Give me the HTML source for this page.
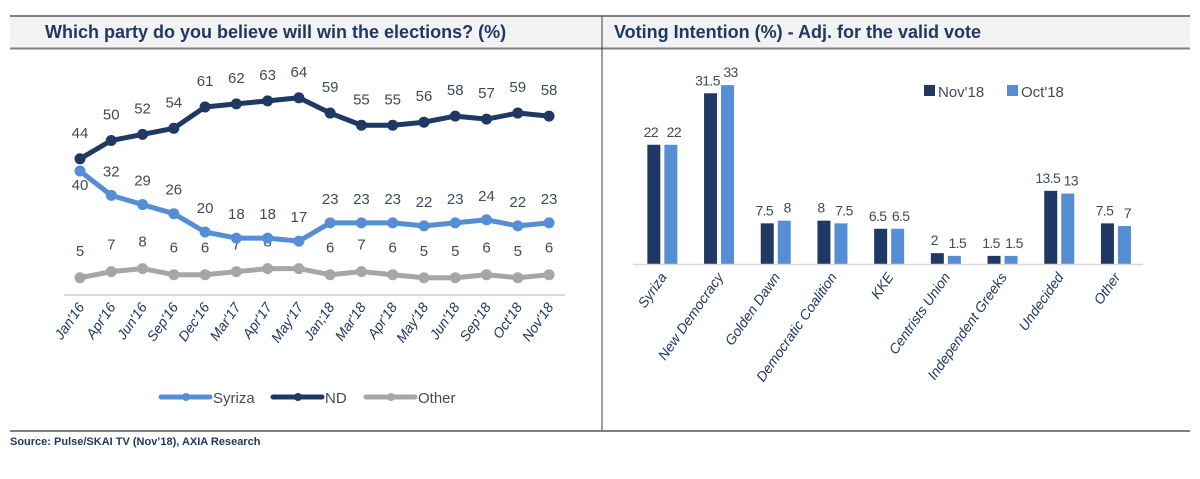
<!DOCTYPE html>
<html><head><meta charset="utf-8"><style>
body{margin:0;background:#fff;width:1200px;height:474px;overflow:hidden;font-family:"Liberation Sans",sans-serif}
svg text{font-family:"Liberation Sans",sans-serif}
</style></head><body>
<svg id="c" width="1200" height="474" xmlns="http://www.w3.org/2000/svg">
<rect x="10" y="15" width="1180" height="34" fill="#f2f2f2"/>
<line x1="10" y1="16" x2="1190" y2="16" stroke="#7f7f7f" stroke-width="2"/>
<line x1="10" y1="48.5" x2="1190" y2="48.5" stroke="#7f7f7f" stroke-width="2"/>
<line x1="602" y1="16" x2="602" y2="431" stroke="#404040" stroke-width="1"/>
<line x1="10" y1="431" x2="1190" y2="431" stroke="#7f7f7f" stroke-width="2"/>
<text x="45" y="38" font-size="18" font-weight="bold" fill="#1f3864">Which party do you believe will win the elections? (%)</text>
<text x="614" y="38" font-size="18" font-weight="bold" fill="#1f3864">Voting Intention (%) - Adj. for the valid vote</text>
<text x="10" y="445" font-size="11" font-weight="bold" fill="#1f3864">Source: Pulse/SKAI TV (Nov’18), AXIA Research</text>
<g id="left"></g><g id="right"></g>
</svg>
<script>
const months=["Jan'16","Apr'16","Jun'16","Sep'16","Dec'16","Mar'17","Apr'17","May'17","Jan;18","Mar'18","Apr'18","May'18","Jun'18","Sep'18","Oct'18","Nov'18"];
const nd=[44,50,52,54,61,62,63,64,59,55,55,56,58,57,59,58];
const syriza=[40,32,29,26,20,18,18,17,23,23,23,22,23,24,22,23];
const other=[5,7,8,6,6,7,8,8,6,7,6,5,5,6,5,6];
const parties=["Syriza","New Democracy","Golden Dawn","Democratic Coalition","KKE","Centrists Union","Independent Greeks","Undecided","Other"];
const nov18=[22,31.5,7.5,8,6.5,2,1.5,13.5,7.5];
const oct18=[22,33,8,7.5,6.5,1.5,1.5,13,7];
const NS="http://www.w3.org/2000/svg";
function mk(t,a,p){const e=document.createElementNS(NS,t);for(const k in a)e.setAttribute(k,a[k]);p.appendChild(e);return e;}
const L=document.getElementById('left'),R=document.getElementById('right');
const lx=i=>80+i*31.27, ly=v=>293-v*3.05;
let ax=mk('line',{x1:64,y1:295,x2:565,y2:295,stroke:'#d9d9d9','stroke-width':2},L);


months.forEach((m,i)=>{const t=mk('text',{x:0,y:0,'font-size':14,'font-style':'italic',fill:'#1f3864','text-anchor':'end',transform:`translate(${lx(i)+5},${307}) rotate(-55)`},L);t.textContent=m;

});
function series(vals,color,name,off){
  const pl=mk('polyline',{points:vals.map((v,i)=>lx(i)+','+ly(v)).join(' '),fill:'none',stroke:color,'stroke-width':5,'stroke-linejoin':'round'},L);
  
  
  vals.forEach((v,i)=>{const c=mk('circle',{cx:lx(i),cy:ly(v),r:5.5,fill:color},L);
    
    
    const dy=(name==='syriza'&&i===0)?19:off(i);
    const t=mk('text',{x:lx(i),y:ly(v)+dy,'font-size':15,fill:'#404a5a','text-anchor':'middle'},L);t.textContent=v;
    
    });
}
series(other,'#a6a6a6','other',i=>-22);
series(syriza,'#558ed5','syriza',i=>-19);
series(nd,'#1f3864','nd',i=>-21);
[['Syriza','#558ed5',161],['ND','#1f3864',273],['Other','#a6a6a6',366]].forEach(([n,c,x])=>{
  const g=mk('g',{},L);
  
  mk('line',{x1:x,y1:397,x2:x+49,y2:397,stroke:c,'stroke-width':5,'stroke-linecap':'round'},g);
  mk('circle',{cx:x+25,cy:397,r:4,fill:c},g);
  const t=mk('text',{x:x+52,y:403,'font-size':15,fill:'#404a5a'},g);t.textContent=n;});
// right
const bx=i=>633+(i+0.5)*56.7, by=v=>264-v*5.42;
parties.forEach((p,i)=>{
  [[nov18,'#1f3864',-14,'nov',-3],[oct18,'#558ed5',3,'oct',3]].forEach(([arr,c,o,n,lo])=>{
    const v=arr[i];const r=mk('rect',{x:bx(i)+o,y:by(v),width:13,height:264-by(v),fill:c},R);
    
    
    const t=mk('text',{x:bx(i)+o+6.5+lo,y:by(v)-8,'font-size':14,'letter-spacing':'-0.6',fill:'#404a5a','text-anchor':'middle'},R);t.textContent=v;
    
    });
  const t=mk('text',{x:0,y:0,'font-size':14,'font-style':'italic',fill:'#1f3864','text-anchor':'end',transform:`translate(${bx(i)+6},${277}) rotate(-55)`},R);t.textContent=p;
  
  });
let ax2=mk('line',{x1:633,y1:264.5,x2:1143,y2:264.5,stroke:'#d9d9d9','stroke-width':1.5},R);


[['Nov\'18','#1f3864',924],['Oct\'18','#558ed5',1007]].forEach(([n,c,x])=>{
  const g=mk('g',{},R);
  
  mk('rect',{x:x,y:85,width:11,height:11,fill:c},g);
  const t=mk('text',{x:x+14,y:97,'font-size':15,fill:'#404a5a'},g);t.textContent=n;});
</script>
</body></html>
